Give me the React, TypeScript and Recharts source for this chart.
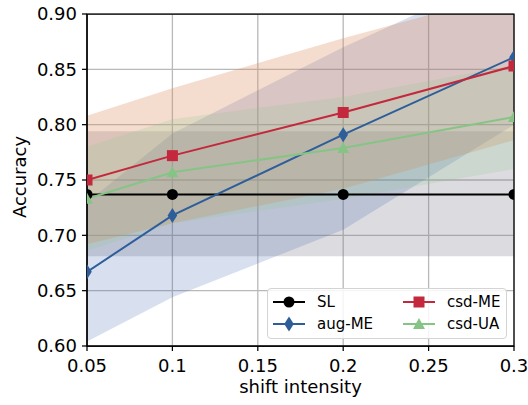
import React from 'react';
import { ComposedChart, Area, Line, XAxis, YAxis, CartesianGrid, ReferenceArea, Label } from 'recharts';

// ---- data ----
const shiftIntensity = [0.05, 0.1, 0.2, 0.3];

const slMean = [0.737, 0.737, 0.737, 0.737];
const slLow = [0.681, 0.681, 0.681, 0.681];
const slHigh = [0.794, 0.794, 0.794, 0.794];

const augMeMean = [0.667, 0.718, 0.791, 0.861];
const augMeLow = [0.604, 0.644, 0.705, 0.8];
const augMeHigh = [0.73, 0.792, 0.87, 0.94];

const csdMeMean = [0.75, 0.772, 0.811, 0.853];
const csdMeLow = [0.692, 0.711, 0.742, 0.786];
const csdMeHigh = [0.808, 0.833, 0.878, 0.92];

const csdUaMean = [0.733, 0.757, 0.779, 0.807];
const csdUaLow = [0.686, 0.711, 0.733, 0.76];
const csdUaHigh = [0.78, 0.805, 0.825, 0.854];

const xTicks = [0.05, 0.1, 0.15, 0.2, 0.25, 0.3];
const yTicks = [0.6, 0.65, 0.7, 0.75, 0.8, 0.85, 0.9];

const seriesNames = ['SL', 'aug-ME', 'csd-ME', 'csd-UA'];

const data = shiftIntensity.map((x, i) => ({
  x,
  sl: slMean[i],
  slBand: [slLow[i], slHigh[i]],
  augMe: augMeMean[i],
  augMeBand: [augMeLow[i], augMeHigh[i]],
  csdMe: csdMeMean[i],
  csdMeBand: [csdMeLow[i], csdMeHigh[i]],
  csdUa: csdUaMean[i],
  csdUaBand: [csdUaLow[i], csdUaHigh[i]],
}));

// ---- styles ----
const FONT = 'DejaVu Sans, sans-serif';
const C_SL = '#000000';
const C_AUG = '#2d5e9a';
const C_CSDME = '#c3283c';
const C_CSDUA = '#86c486';

type Shape = 'circle' | 'diamond' | 'square' | 'triangle';

const markerEl = (shape: Shape, cx: number, cy: number, color: string, key?: string) => {
  if (shape === 'circle') return <circle key={key} cx={cx} cy={cy} r={5.5} fill={color} />;
  if (shape === 'diamond')
    return (
      <path key={key} d={`M${cx},${cy - 7.5} L${cx + 4.8},${cy} L${cx},${cy + 7.5} L${cx - 4.8},${cy} Z`} fill={color} />
    );
  if (shape === 'square')
    return <rect key={key} x={cx - 5.5} y={cy - 5.5} width={11} height={11} fill={color} />;
  return <path key={key} d={`M${cx},${cy - 6} L${cx + 6},${cy + 5} L${cx - 6},${cy + 5} Z`} fill={color} />;
};

const makeDot = (shape: Shape, color: string) => (props: any) => {
  const { cx, cy, index } = props;
  if (cx == null || cy == null) return <g key={`e-${shape}-${index}`} />;
  return markerEl(shape, cx, cy, color, `${shape}-${index}`);
};

const legendItems: { name: string; color: string; shape: Shape; col: number; row: number }[] = [
  { name: seriesNames[0], color: C_SL, shape: 'circle', col: 0, row: 0 },
  { name: seriesNames[1], color: C_AUG, shape: 'diamond', col: 0, row: 1 },
  { name: seriesNames[2], color: C_CSDME, shape: 'square', col: 1, row: 0 },
  { name: seriesNames[3], color: C_CSDUA, shape: 'triangle', col: 1, row: 1 },
];

const LegendBox = () => (
  <div
    style={{
      position: 'absolute',
      left: 267,
      top: 288,
      width: 238,
      height: 49,
      border: '1px solid #d4d4d4',
      borderRadius: 4,
      background: 'rgba(255,255,255,0.85)',
      fontFamily: FONT,
      fontSize: 15,
      color: '#000',
    }}
  >
    {legendItems.map((it) => {
      const left = it.col === 0 ? 4 : 134;
      const top = it.row === 0 ? 13 : 35;
      return (
        <div key={it.name} style={{ position: 'absolute', left, top: top - 9, height: 18, display: 'flex', alignItems: 'center' }}>
          <svg width={34} height={18} style={{ display: 'block' }}>
            <line x1={1} y1={9} x2={33} y2={9} stroke={it.color} strokeWidth={2} />
            {markerEl(it.shape, 17, 9, it.color)}
          </svg>
          <span style={{ marginLeft: 11, lineHeight: '18px', whiteSpace: 'nowrap' }}>{it.name}</span>
        </div>
      );
    })}
  </div>
);

const fmtX = (v: number) => String(Math.round(v * 100) / 100);
const fmtY = (v: number) => v.toFixed(2);

export default function App() {
  return (
    <div style={{ position: 'absolute', left: 0, top: 0, width: 528, height: 405, background: '#fff' }}>
      <ComposedChart
        width={528}
        height={405}
        data={data}
        margin={{ top: 14, right: 14, bottom: 0, left: 0 }}
        style={{ fontFamily: FONT }}
      >
        <XAxis
          dataKey="x"
          type="number"
          domain={[0.05, 0.3]}
          ticks={xTicks}
          tickFormatter={fmtX}
          allowDataOverflow
          height={59}
          tickSize={5}
          tickMargin={8}
          axisLine={{ stroke: '#000', strokeWidth: 1.25 }}
          tickLine={{ stroke: '#000', strokeWidth: 1.25 }}
          tick={{ fill: '#000', fontSize: 18, fontFamily: FONT }}
          interval={0}
        >
          <Label
            content={() => (
              <text x={300.5} y={393} textAnchor="middle" fontSize={18} fontFamily={FONT} fill="#000">
                shift intensity
              </text>
            )}
          />
        </XAxis>
        <YAxis
          type="number"
          domain={[0.6, 0.9]}
          ticks={yTicks}
          tickFormatter={fmtY}
          allowDataOverflow
          width={87}
          tickSize={5}
          tickMargin={5}
          axisLine={{ stroke: '#000', strokeWidth: 1.25 }}
          tickLine={{ stroke: '#000', strokeWidth: 1.25 }}
          tick={{ fill: '#000', fontSize: 18, fontFamily: FONT }}
          interval={0}
        >
          <Label
            content={() => (
              <text
                x={26}
                y={177}
                transform="rotate(-90 26 177)"
                textAnchor="middle"
                fontSize={18}
                fontFamily={FONT}
                fill="#000"
              >
                Accuracy
              </text>
            )}
          />
        </YAxis>

        <Area type="linear" dataKey="slBand" stroke="none" fill="#7c7f8c" fillOpacity={0.27} isAnimationActive={false} activeDot={false} />
        <Area type="linear" dataKey="augMeBand" stroke="none" fill="#3b5fa8" fillOpacity={0.2} isAnimationActive={false} activeDot={false} />
        <Area type="linear" dataKey="csdMeBand" stroke="none" fill="#d98b5f" fillOpacity={0.3} isAnimationActive={false} activeDot={false} />
        <Area type="linear" dataKey="csdUaBand" stroke="none" fill="#8cc68c" fillOpacity={0.2} isAnimationActive={false} activeDot={false} />

        <CartesianGrid stroke="#b9b9b9" strokeWidth={1.3} />

        <Line type="linear" dataKey="sl" name={seriesNames[0]} stroke={C_SL} strokeWidth={2} dot={makeDot('circle', C_SL)} activeDot={false} isAnimationActive={false} />
        <Line type="linear" dataKey="augMe" name={seriesNames[1]} stroke={C_AUG} strokeWidth={2} dot={makeDot('diamond', C_AUG)} activeDot={false} isAnimationActive={false} />
        <Line type="linear" dataKey="csdMe" name={seriesNames[2]} stroke={C_CSDME} strokeWidth={2} dot={makeDot('square', C_CSDME)} activeDot={false} isAnimationActive={false} />
        <Line type="linear" dataKey="csdUa" name={seriesNames[3]} stroke={C_CSDUA} strokeWidth={2} dot={makeDot('triangle', C_CSDUA)} activeDot={false} isAnimationActive={false} />

        <ReferenceArea x1={0.05} x2={0.3} y1={0.6} y2={0.9} fill="none" stroke="#000" strokeWidth={1.25} ifOverflow="visible" />
      </ComposedChart>
      <LegendBox />
    </div>
  );
}
